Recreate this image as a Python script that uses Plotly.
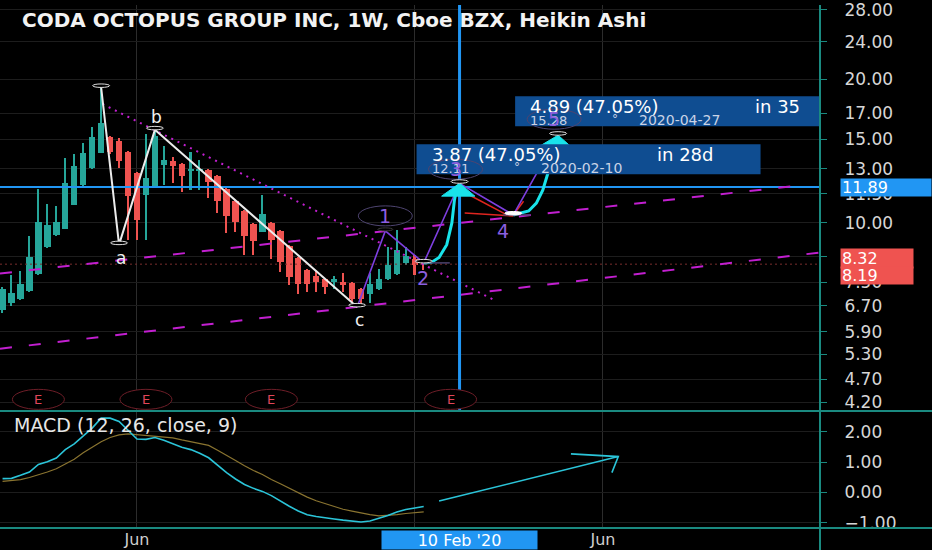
import numpy as np
import pandas as pd
import plotly.graph_objects as go

# ---------------- data ----------------
first_week = "2019-02-18"
n_weeks = 48
ha_open = [6.56, 6.80, 6.91, 7.18, 7.80, 8.88, 9.44, 9.72, 10.90, 12.00, 13.02, 14.05,
           15.17, 14.88, 14.12, 12.71, 11.43, 11.94, 13.20, 13.46, 13.27, 12.83, 12.83, 12.89,
           12.53, 11.77, 11.10, 10.59, 9.95, 9.58, 10.00, 9.63, 8.96, 8.42, 7.95, 7.72,
           7.61, 7.50, 7.50, 7.46, 7.25, 7.08, 7.25, 7.61, 7.80, 8.22, 8.38, 8.32]
ha_high = [7.32, 7.76, 7.91, 9.39, 11.77, 10.95, 10.84, 13.71, 13.98, 14.74, 15.91, 19.25,
           15.24, 15.10, 14.19, 12.77, 15.39, 15.68, 14.53, 13.78, 13.33, 14.12, 13.58, 12.96,
           12.59, 11.83, 11.16, 10.64, 10.00, 11.43, 10.05, 9.67, 9.00, 8.46, 7.99, 7.91,
           7.64, 7.72, 7.83, 7.50, 7.29, 7.83, 7.99, 8.88, 9.67, 8.88, 8.58, 8.34]
ha_low = [6.47, 6.69, 6.88, 7.15, 7.76, 8.84, 9.39, 9.70, 10.88, 11.98, 13.00, 14.03,
          13.98, 13.02, 9.22, 9.22, 9.22, 11.92, 12.00, 12.11, 11.60, 11.71, 11.71, 11.27,
          10.49, 9.53, 9.58, 8.58, 8.58, 9.56, 8.38, 7.87, 7.39, 7.08, 7.15, 7.15,
          7.08, 7.25, 7.15, 6.82, 6.66, 6.79, 7.22, 7.57, 7.76, 8.14, 7.76, 7.95]
ha_close = [7.25, 7.12, 7.43, 8.46, 10.05, 9.90, 10.05, 12.11, 13.14, 14.05, 15.17, 16.22,
            14.12, 13.52, 11.38, 10.15, 12.41, 15.24, 13.58, 13.14, 12.53, 12.96, 12.96, 12.17,
            11.10, 10.34, 10.05, 9.39, 9.17, 10.44, 9.22, 8.26, 7.68, 7.43, 7.43, 7.50,
            7.32, 7.61, 7.43, 6.91, 6.91, 7.43, 7.64, 8.14, 8.79, 8.50, 8.14, 8.19]
macd_line = [0.45, 0.46, 0.56, 0.67, 0.92, 1.01, 1.13, 1.41, 1.60, 1.86, 2.12, 2.45,
             2.45, 2.34, 2.04, 1.76, 1.75, 1.81, 1.72, 1.60, 1.49, 1.41, 1.29, 1.14,
             0.88, 0.65, 0.44, 0.26, 0.13, 0.03, -0.11, -0.29, -0.46, -0.62, -0.74, -0.80,
             -0.85, -0.88, -0.92, -0.96, -0.98, -0.95, -0.87, -0.77, -0.65, -0.57, -0.52, -0.47]
macd_signal = [0.36, 0.39, 0.42, 0.49, 0.57, 0.67, 0.78, 0.93, 1.09, 1.31, 1.50, 1.67,
               1.81, 1.90, 1.93, 1.90, 1.88, 1.86, 1.83, 1.80, 1.73, 1.67, 1.62, 1.55,
               1.39, 1.21, 1.05, 0.88, 0.72, 0.59, 0.42, 0.28, 0.13, -0.03, -0.16, -0.28,
               -0.38, -0.47, -0.56, -0.62, -0.69, -0.74, -0.78, -0.77, -0.74, -0.70, -0.67, -0.65]

# wave drawings
abc_dates = ["2019-05-06", "2019-05-20", "2019-06-17", "2019-11-22"]
abc_prices = [19.25, 9.00, 15.68, 6.66]
abc_labels = ["", "a", "b", "c"]
imp_dates = ["2019-11-22", "2019-12-14", "2020-01-13", "2020-02-10", "2020-03-23", "2020-04-27"]
imp_prices = [6.66, 9.62, 8.24, 12.11, 10.39, 15.28]
imp_labels = ["", "1", "2", "3", "4", "5"]
curve1_dates = ["2020-01-13", "2020-01-19", "2020-01-25", "2020-01-31", "2020-02-04", "2020-02-06", "2020-02-08"]
curve1_prices = [8.24, 8.26, 8.46, 9.00, 10.00, 11.16, 11.89]
curve2_dates = ["2020-03-23", "2020-04-04", "2020-04-10", "2020-04-15", "2020-04-19", "2020-04-22", "2020-04-24"]
curve2_prices = [10.39, 10.59, 11.00, 11.71, 12.71, 13.78, 14.81]
tri1_dates = ["2020-01-27", "2020-02-22", "2020-02-10", "2020-01-27"]
tri1_prices = [11.38, 11.38, 12.11, 11.38]
tri2_dates = ["2020-04-12", "2020-05-07", "2020-04-27", "2020-04-12"]
tri2_prices = [14.46, 14.46, 15.28, 14.46]
fib_lines = [(["2020-02-18", "2020-03-18"], [11.43, 10.39]),
             (["2020-02-14", "2020-03-23"], [10.49, 10.34]),
             (["2020-03-23", "2020-03-31"], [10.39, 11.10])]
trend_dotted = (["2019-05-07", "2020-03-07"], [17.77, 6.91])
channel_upper = (["2019-02-16", "2020-11-04"], [7.83, 12.00])
channel_lower = (["2019-02-16", "2020-11-17"], [5.44, 8.66])
hline_price = 11.89
vline_date = "2020-02-10"
last_price = 8.19
prev_price = 8.32
earnings_dates = ["2019-03-18", "2019-06-10", "2019-09-16", "2020-02-03"]
macd_arrow = (["2020-01-25", "2020-06-13"], [-0.29, 1.18])
macd_arrow_head = (["2020-05-07", "2020-06-13", "2020-06-08"], [1.27, 1.18, 0.65])
box1 = ("3.87 (47.05%)", "in 28d", "12.11", "2020-02-10")
box2 = ("4.89 (47.05%)", "in 35", "15.28", "2020-04-27")

price_ticks = [4.2, 4.7, 5.3, 5.9, 6.7, 7.5, 8.5, 10, 11.5, 13, 15, 17, 20, 24, 28]
macd_ticks = [-1, 0, 1, 2]
x_range = ["2019-02-16", "2020-11-17 14:00"]
x_ticks = ["2019-06-03", "2020-01-06", "2020-06-01"]
x_ticktext = ["Jun", "", "Jun"]

# ---------------- styles ----------------
TEAL = "#26a69a"
RED = "#ef5350"
AX = "#1a8a80"
FONT = "DejaVu Sans"
MAG = "#c21fd0"
PURP = "#7e3fe0"
CYAN = "#19e3ea"
BLUE = "#2196f3"
DAY = 86400000

dates = pd.date_range(first_week, periods=n_weeks, freq="7D")
colors = [TEAL if c >= o else RED for o, c in zip(ha_open, ha_close)]

fig = go.Figure()
# wicks
fig.add_trace(go.Bar(x=dates, base=ha_low, y=[h - l for h, l in zip(ha_high, ha_low)],
                     width=1.2 * DAY, marker=dict(color=colors, line=dict(width=0)),
                     xaxis="x", yaxis="y", hoverinfo="skip"))
# bodies
fig.add_trace(go.Bar(x=dates, base=[min(o, c) for o, c in zip(ha_open, ha_close)],
                     y=[max(abs(c - o), 0.03) for o, c in zip(ha_open, ha_close)],
                     width=5.0 * DAY, marker=dict(color=colors, line=dict(width=0)),
                     xaxis="x", yaxis="y", hoverinfo="skip"))


def line(xs, ys, color, width, dash="solid", yaxis="y"):
    fig.add_trace(go.Scatter(x=xs, y=ys, mode="lines", line=dict(color=color, width=width, dash=dash),
                             xaxis="x", yaxis=yaxis, hoverinfo="skip"))


# horizontal blue line and last price line
line(x_range, [hline_price, hline_price], BLUE, 2)
line(x_range, [last_price, last_price], "#7a2c2c", 1, "2px,3px")
# channel and trend
line(channel_upper[0], channel_upper[1], MAG, 2, "12px,17px")
line(channel_lower[0], channel_lower[1], MAG, 2, "12px,17px")
line(trend_dotted[0], trend_dotted[1], MAG, 2, "2px,5px")
# vertical blue line
line([vline_date, vline_date], [3.5, 40], BLUE, 3)
# abc lines
line(abc_dates, abc_prices, "#ececec", 2)
# fib red
for fx, fy in fib_lines:
    line(fx, fy, "#e0251f", 1.5)
# impulse
line(imp_dates, imp_prices, PURP, 1.6)
# cyan curves
line(curve1_dates, curve1_prices, CYAN, 3)
line(curve2_dates, curve2_prices, CYAN, 3)
for tx, ty in [(tri1_dates, tri1_prices), (tri2_dates, tri2_prices)]:
    fig.add_trace(go.Scatter(x=tx, y=ty, mode="lines", fill="toself", fillcolor=CYAN,
                             line=dict(color=CYAN, width=1), hoverinfo="skip"))

# MACD
line(list(dates), macd_signal, "#8a7430", 1.2, yaxis="y2")
line(list(dates), macd_line, "#2bc4d8", 1.6, yaxis="y2")
line(macd_arrow[0], macd_arrow[1], "#2bc4d8", 1.6, yaxis="y2")
line(macd_arrow_head[0], macd_arrow_head[1], "#2bc4d8", 1.6, yaxis="y2")

shapes = []
annotations = []


def ellipse(xd, yv, w, h, dx=0, dy=0, color="#e0e0e0", fill="#000000", lw=1, yref="y"):
    shapes.append(dict(type="circle", xref="x", yref=yref, xsizemode="pixel", ysizemode="pixel",
                       xanchor=xd, yanchor=yv, x0=dx - w / 2, x1=dx + w / 2, y0=dy - h / 2, y1=dy + h / 2,
                       line=dict(color=color, width=lw), fillcolor=fill, layer="above"))


def text(xd, yv, s, dx=0, dy=0, size=16, color="#ffffff", xanchor="center", yref="y", weight="normal"):
    yy = np.log10(yv) if yref == "y" else yv
    annotations.append(dict(x=xd, y=yy, xref="x", yref=yref, text=s, showarrow=False,
                            xshift=dx, yshift=dy, xanchor=xanchor, yanchor="middle",
                            font=dict(family=FONT, size=size, color=color, weight=weight)))


# pivot markers abc
for d, p, lab in zip(abc_dates, abc_prices, abc_labels):
    ellipse(d, p, 17, 7)
    if lab:
        text(d, p, lab, dx=2, dy=13 if lab == "b" else -13, size=17, color="#f0f0f0")

# wave boxes (under numbers)
for (l1, l2, v2, d2), d, p in [(box1, imp_dates[3], imp_prices[3]), (box2, imp_dates[5], imp_prices[5])]:
    shapes.append(dict(type="rect", xref="x", yref="y", xsizemode="pixel", ysizemode="pixel",
                       xanchor=d, yanchor=p, x0=-43, x1=301, y0=9, y1=39,
                       fillcolor="#0f4d91", line=dict(width=0), layer="above"))
    text(d, p, l1, dx=-30, dy=29, size=18, xanchor="left")
    text(d, p, l2, dx=195, dy=29, size=18, xanchor="left")
    text(d, p, v2, dx=-30, dy=15, size=13, color="#c9d3e6", xanchor="left")
    text(d, p, "°", dx=52, dy=16, size=12, color="#c9d3e6", xanchor="left")
    text(d, p, d2, dx=79, dy=15, size=14, color="#c9d3e6", xanchor="left")

# impulse labels
offsets = {"1": (0, 15), "2": (-1, -15), "3": (-4, 14), "4": (-10, -16), "5": (-4, 16)}
for d, p, lab in zip(imp_dates, imp_prices, imp_labels):
    if not lab:
        continue
    ox, oy = offsets[lab]
    ellipse(d, p, 54, 20, dx=ox, dy=oy, color="#4e4470", fill="rgba(0,0,0,0)")
    text(d, p, lab, dx=ox, dy=oy, size=19, color="#8d5fe0")
    if lab == "4":
        ellipse(d, p, 17, 7, color="#ffffff", fill="#ffffff")
    elif lab == "1":
        ellipse(d, p, 15, 6, color="#3a3a3a")
    else:
        ellipse(d, p, 17, 7)

# earnings markers
for d in earnings_dates:
    shapes.append(dict(type="circle", xref="x", yref="paper", xsizemode="pixel", ysizemode="pixel",
                       xanchor=d, yanchor=0.246, x0=-26, x1=26, y0=-10, y1=10,
                       line=dict(color="#6e1e28", width=1), fillcolor="#000000", layer="above"))
    annotations.append(dict(x=d, y=0.246, xref="x", yref="paper", text="E", showarrow=False,
                            font=dict(family=FONT, size=13, color="#e2465a"), yanchor="middle"))

# pane separators and right border
shapes.append(dict(type="line", xref="paper", yref="paper", x0=0, x1=1.14, y0=0.2235, y1=0.2235,
                   line=dict(color=AX, width=2), layer="above"))
shapes.append(dict(type="line", xref="paper", yref="paper", x0=0, x1=1.14, y0=0, y1=0,
                   line=dict(color=AX, width=2), layer="above"))
shapes.append(dict(type="line", xref="paper", yref="paper", x0=1, x1=1, y0=-0.05, y1=1,
                   line=dict(color=AX, width=2), layer="above"))

# right price labels (annotations so that they sit above the axis tick labels)
for p, dy, col, w, h in [(hline_price, 0, BLUE, 88, 15), (prev_price, 2, RED, 70, 17),
                         (last_price, -11, RED, 70, 15)]:
    annotations.append(dict(x=840 / 820, y=np.log10(p), xref="paper", yref="y", text=f"{p:.2f}",
                            showarrow=False, xanchor="left", yanchor="middle", yshift=dy,
                            bgcolor=col, width=w, height=h, align="left", borderpad=1,
                            font=dict(family=FONT, size=16, color="#ffffff")))

# date label on x axis
annotations.append(dict(x=vline_date, y=-0.022, xref="x", yref="paper", text="10 Feb '20", showarrow=False,
                        yanchor="middle", bgcolor=BLUE, width=153, height=16, borderpad=1,
                        font=dict(family=FONT, size=16, color="#ffffff")))

# titles
annotations.append(dict(x=20 / 820, y=(528 - 15) / 528, xref="paper", yref="paper", xanchor="left",
                        yanchor="middle", showarrow=False,
                        text="CODA OCTOPUS GROUP INC, 1W, Cboe BZX, Heikin Ashi",
                        font=dict(family=FONT, size=20, color="#f2f2f2", weight="bold")))
annotations.append(dict(x=12 / 820, y=(528 - 424) / 528, xref="paper", yref="paper", xanchor="left",
                        yanchor="middle", showarrow=False, text="MACD (12, 26, close, 9)",
                        font=dict(family=FONT, size=19, color="#e6e6e6")))

fig.update_layout(
    width=932, height=550, margin=dict(l=0, r=112, t=0, b=22),
    paper_bgcolor="#000000", plot_bgcolor="#000000",
    showlegend=False, barmode="overlay", bargap=0, hovermode=False,
    font=dict(family=FONT, color="#d1d4dc"),
    xaxis=dict(type="date", range=x_range, anchor="y2", tickvals=x_ticks, ticktext=x_ticktext,
               showgrid=True, gridcolor="#2c2c2c", gridwidth=1, zeroline=False, showline=False,
               ticks="", tickfont=dict(family=FONT, size=16, color="#cfcfcf")),
    yaxis=dict(domain=[0.2235, 1], type="log", range=[np.log10(4.024), np.log10(28.68)], side="right",
               tickvals=price_ticks, ticktext=[f"{v:.2f}" for v in price_ticks],
               showgrid=True, gridcolor="#1d1d1d", zeroline=False, showline=False,
               ticks="outside", ticklen=6, tickcolor=AX, ticklabelstandoff=14,
               ticklabeloverflow="allow",
               tickfont=dict(family=FONT, size=17, color="#d6d6d6")),
    yaxis2=dict(domain=[0, 0.2216], range=[-1.18, 2.65], side="right", anchor="x",
                tickvals=macd_ticks, ticktext=["\u22121.00", "0.00", "1.00", "2.00"],
                showgrid=True, gridcolor="#1d1d1d", zeroline=False, showline=False,
                ticks="outside", ticklen=6, tickcolor=AX, ticklabelstandoff=14,
                tickfont=dict(family=FONT, size=17, color="#d6d6d6")),
    shapes=shapes, annotations=annotations,
)

fig.write_html("out.html", config={"displayModeBar": False},
               post_script="document.body.style.margin='0px';document.body.style.overflow='hidden';")
